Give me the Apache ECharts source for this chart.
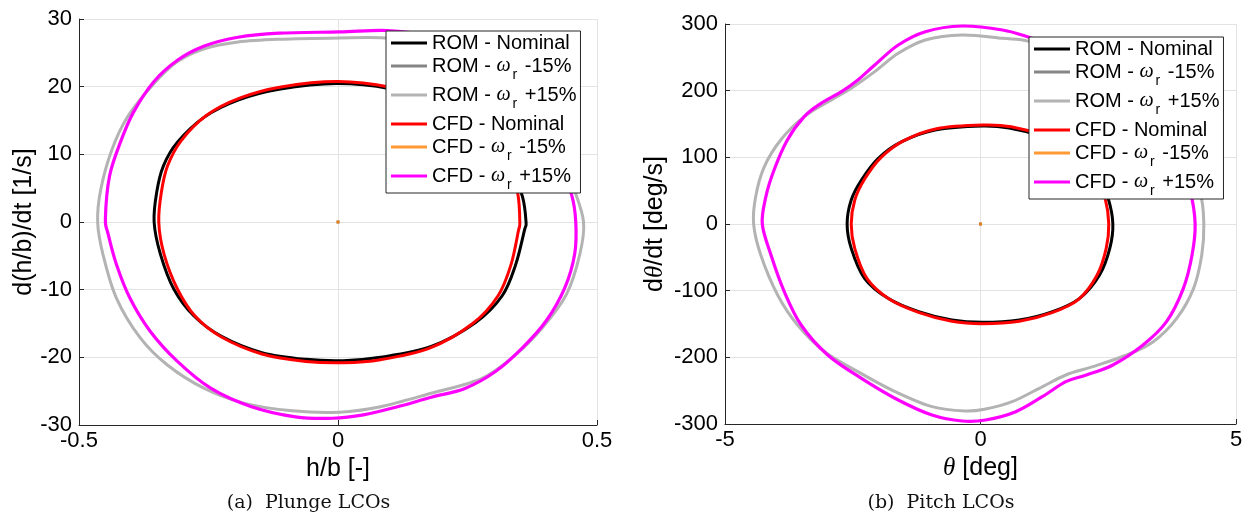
<!DOCTYPE html>
<html>
<head>
<meta charset="utf-8">
<script src="https://cdn.jsdelivr.net/npm/echarts/dist/echarts.min.js"></script>
<style>
  html, body { margin: 0; padding: 0; background: #ffffff; }
  #main { width: 1247px; height: 521px; }
</style>
</head>
<body>
<div id="main"></div>
<script>
// Legend entries and colours (same order in both panels)
const seriesNames = ['ROM - Nominal', 'ROM - ω_r -15%', 'ROM - ω_r +15%',
                     'CFD - Nominal', 'CFD - ω_r -15%', 'CFD - ω_r +15%'];
const seriesColors = ['#000000', '#666666', '#b3b3b3', '#ff0000', '#ff8000', '#ff00ff'];

// Axis ticks
const plungeXTicks = [-0.5, 0, 0.5];
const plungeYTicks = [-30, 30, 10];   // min, max, step
const pitchXTicks = [-5, 0, 5];
const pitchYTicks = [-300, 300, 100];

// Plunge LCO orbits: [h/b, d(h/b)/dt]
const plungeRomNominal = [[-0.355,0],[-0.35,4.4],[-0.337,8.3],[-0.31,11.8],[-0.258,15.5],[-0.193,18.0],[-0.114,19.6],[-0.003,20.45],[0.101,19.7],[0.18,17.9],[0.25,15.0],[0.3,11.4],[0.335,7.6],[0.356,3.8],[0.363,0],[0.36,-1.2],[0.343,-6.3],[0.317,-10.9],[0.265,-14.9],[0.18,-18.4],[0.082,-20.0],[0.01,-20.5],[-0.062,-20.3],[-0.147,-19.3],[-0.225,-16.9],[-0.278,-13.9],[-0.317,-9.9],[-0.343,-4.7]];
const plungeRomMinus = [[0, 0]];
const plungeRomPlus = [[-0.464,0],[-0.458,4.8],[-0.436,10.8],[-0.405,15.7],[-0.356,20.4],[-0.31,23.7],[-0.258,25.6],[-0.193,26.6],[-0.114,27.0],[0.003,27.2],[0.09,27.2],[0.17,26.5],[0.25,24.3],[0.32,20.6],[0.38,15.9],[0.425,10.9],[0.455,5.0],[0.474,0],[0.467,-4.7],[0.441,-10.7],[0.395,-15.6],[0.343,-19.6],[0.278,-23.1],[0.18,-25.3],[0.082,-27.3],[0.003,-28.1],[-0.088,-27.9],[-0.18,-26.8],[-0.258,-24.6],[-0.33,-21.1],[-0.382,-17.1],[-0.428,-11.2],[-0.454,-4.7]];
const plungeCfdNominal = [[-0.346,0],[-0.341,4.4],[-0.329,8.3],[-0.303,12.0],[-0.253,15.8],[-0.19,18.3],[-0.11,19.95],[0.0,20.75],[0.101,19.9],[0.18,18.0],[0.25,15.1],[0.3,11.4],[0.332,7.6],[0.347,4.2],[0.351,0],[0.348,-1.4],[0.334,-6.3],[0.309,-10.9],[0.26,-15.0],[0.178,-18.6],[0.082,-20.35],[0.01,-20.8],[-0.062,-20.6],[-0.147,-19.5],[-0.225,-17.0],[-0.276,-13.9],[-0.31,-9.9],[-0.336,-4.7]];
const plungeCfdMinus = [[0, 0]];
const plungeCfdPlus = [[-0.449,0.5],[-0.441,6.8],[-0.42,11.8],[-0.395,16.2],[-0.356,20.7],[-0.31,23.9],[-0.258,26.0],[-0.193,27.3],[-0.114,27.9],[0.003,28.1],[0.095,28.3],[0.167,27.6],[0.245,25.1],[0.31,21.1],[0.363,16.4],[0.402,11.6],[0.432,7.2],[0.451,4.0],[0.459,0],[0.457,-4.7],[0.438,-9.7],[0.402,-14.6],[0.356,-18.6],[0.304,-22.1],[0.245,-24.6],[0.18,-25.9],[0.115,-27.3],[0.049,-28.5],[-0.01,-29.0],[-0.082,-28.8],[-0.167,-27.3],[-0.245,-24.6],[-0.31,-20.6],[-0.363,-16.1],[-0.402,-11.2],[-0.428,-6.2],[-0.444,-1.7]];

// Pitch LCO orbits: [theta (deg), dtheta/dt (deg/s)]
const pitchRomNominal = [[-2.61,0],[-2.53,36],[-2.33,66],[-2.0,98.5],[-1.54,123.5],[-0.89,141],[0.03,147],[0.56,144],[1.21,131.5],[1.81,111.5],[2.27,81.5],[2.5,38],[2.59,0],[2.53,-36.5],[2.33,-76.5],[1.94,-111.5],[1.41,-131.5],[0.76,-144],[0.03,-147.5],[-0.56,-144],[-1.21,-131.5],[-1.81,-111.5],[-2.27,-81.5],[-2.53,-36.5]];
const pitchRomMinus = [[0, 0]];
const pitchRomPlus = [[-4.44,0],[-4.4,41],[-4.23,86],[-3.91,126],[-3.45,161],[-2.92,186],[-2.53,203.5],[-2.07,228.5],[-1.61,256],[-1.08,276],[-0.36,283.5],[0.43,278.5],[0.95,274],[1.67,251.5],[2.4,221.5],[3.05,191.5],[3.58,151.5],[3.97,106.5],[4.3,46.5],[4.37,0],[4.33,-46.5],[4.17,-96.5],[3.84,-141.5],[3.38,-176.5],[2.86,-196.5],[2.2,-214],[1.67,-226.5],[1.15,-246.5],[0.62,-266.5],[0.1,-277.5],[-0.3,-280.5],[-0.95,-274],[-1.67,-251.5],[-2.4,-221.5],[-3.05,-191.5],[-3.58,-151.5],[-3.97,-106.5],[-4.3,-46.5]];
const pitchCfdNominal = [[-2.53,0],[-2.46,36],[-2.27,67],[-1.95,99.5],[-1.5,125],[-0.86,143],[0.05,148.5],[0.6,146],[1.22,133],[1.8,112],[2.22,82],[2.44,38],[2.51,0],[2.46,-36.5],[2.28,-77],[1.92,-113],[1.4,-133],[0.76,-146],[0.03,-149.5],[-0.56,-146],[-1.2,-133],[-1.78,-113],[-2.22,-82],[-2.46,-37]];
const pitchCfdMinus = [[0, 0]];
const pitchCfdPlus = [[-4.27,0],[-4.2,41],[-4.04,81],[-3.78,126],[-3.45,161],[-3.12,181],[-2.72,198.5],[-2.4,216],[-2.07,238.5],[-1.61,268.5],[-1.08,288.5],[-0.36,297],[0.43,291],[0.95,280],[1.61,262],[2.33,232],[2.99,196],[3.51,152],[3.84,102],[4.1,50],[4.2,0],[4.14,-46.5],[3.97,-96.5],[3.64,-146.5],[3.18,-181.5],[2.59,-211.5],[2.07,-226.5],[1.67,-236.5],[1.21,-259],[0.69,-281.5],[0.1,-294],[-0.36,-295.5],[-0.95,-286.5],[-1.61,-264],[-2.33,-231.5],[-2.99,-196.5],[-3.51,-151.5],[-3.84,-101.5],[-4.1,-46.5]];

const SANS = '"Liberation Sans", Arial, Helvetica, sans-serif';
const SERIF = '"Liberation Serif", "Times New Roman", serif';
const AXIS_COLOR = '#262626';

// Closed Catmull-Rom path through the orbit points (already in pixel space)
function closedSplinePath(P) {
  const n = P.length;
  let d = 'M' + P[0][0] + ',' + P[0][1];
  for (let k = 0; k < n; k++) {
    const p0 = P[(k - 1 + n) % n], p1 = P[k], p2 = P[(k + 1) % n], p3 = P[(k + 2) % n];
    const c1x = p1[0] + (p2[0] - p0[0]) / 6, c1y = p1[1] + (p2[1] - p0[1]) / 6;
    const c2x = p2[0] - (p3[0] - p1[0]) / 6, c2y = p2[1] - (p3[1] - p1[1]) / 6;
    d += 'C' + c1x + ',' + c1y + ' ' + c2x + ',' + c2y + ' ' + p2[0] + ',' + p2[1];
  }
  return d + 'Z';
}

function legendFormatter(name) {
  const m = name.match(/^(.*)ω_r(.*)$/);
  if (!m) return '{t|' + name + '}';
  return '{t|' + m[1] + '}{w|ω}{s|r}{t|' + m[2] + '}';
}

const legendRich = {
  t: { fontFamily: SANS, fontSize: 20, lineHeight: 20, color: '#000', verticalAlign: 'top' },
  w: { fontFamily: SERIF, fontStyle: 'italic', fontSize: 20, lineHeight: 20, color: '#000', verticalAlign: 'top', padding: [0, 1, 0, 0] },
  s: { fontFamily: SANS, fontSize: 14, lineHeight: 14, color: '#000', verticalAlign: 'top', padding: [12, 2, 0, 1] }
};

function makeLegend(left, top) {
  return {
    orient: 'vertical', left: left, top: top,
    data: seriesNames, icon: 'rect', itemWidth: 36, itemHeight: 3, itemGap: 3,
    padding: [2, 4, 1, 5], backgroundColor: '#ffffff',
    borderColor: AXIS_COLOR, borderWidth: 1, borderRadius: 0,
    selectedMode: false, formatter: legendFormatter,
    textStyle: { rich: legendRich }
  };
}

function makeXAxis(gridIndex, ticks, name, rich) {
  return {
    gridIndex: gridIndex, type: 'value',
    min: ticks[0], max: ticks[ticks.length - 1], interval: ticks[1] - ticks[0],
    axisLine: { show: true, onZero: false, lineStyle: { color: AXIS_COLOR, width: 1 } },
    axisTick: { show: true, inside: true, length: 5, lineStyle: { color: AXIS_COLOR } },
    axisLabel: { color: '#000', fontFamily: SANS, fontSize: 22, margin: 5 },
    splitLine: { show: true, lineStyle: { color: '#e3e3e3', width: 1 } },
    name: name, nameLocation: 'middle', nameGap: 28,
    nameTextStyle: { color: '#000', fontFamily: SANS, fontSize: 25, rich: rich }
  };
}

function makeYAxis(gridIndex, ticks, name, gap, rich) {
  return {
    gridIndex: gridIndex, type: 'value',
    min: ticks[0], max: ticks[1], interval: ticks[2],
    axisLine: { show: true, onZero: false, lineStyle: { color: AXIS_COLOR, width: 1 } },
    axisTick: { show: true, inside: true, length: 5, lineStyle: { color: AXIS_COLOR } },
    axisLabel: { color: '#000', fontFamily: SANS, fontSize: 22, margin: 7 },
    splitLine: { show: true, lineStyle: { color: '#e3e3e3', width: 1 } },
    name: name, nameLocation: 'middle', nameGap: gap,
    nameTextStyle: { color: '#000', fontFamily: SANS, fontSize: 25, rich: rich }
  };
}

function makeSeries(panel, datasets) {
  return datasets.map(function (pts, i) {
    const color = seriesColors[i];
    if (pts.length < 3) {
      // orbit collapsed to the equilibrium point
      return {
        type: 'scatter', name: seriesNames[i], xAxisIndex: panel, yAxisIndex: panel,
        data: pts, symbol: 'rect', symbolSize: 3, color: color,
        itemStyle: { color: color }, silent: true
      };
    }
    const width = i === 5 ? 3.2 : 3;
    return {
      type: 'custom', name: seriesNames[i], coordinateSystem: 'cartesian2d',
      xAxisIndex: panel, yAxisIndex: panel, data: pts, encode: { x: 0, y: 1 },
      color: color, itemStyle: { color: color }, silent: true,
      renderItem: function (params, api) {
        if (params.dataIndex !== 0) return null;
        const P = pts.map(function (p) { return api.coord(p); });
        return {
          type: 'path',
          shape: { pathData: closedSplinePath(P) },
          style: { stroke: color, lineWidth: width, fill: 'none', lineJoin: 'round' }
        };
      }
    };
  });
}

const thetaRich = { i: { fontFamily: SERIF, fontStyle: 'italic', fontSize: 25, color: '#000' } };

const option = {
  animation: false,
  backgroundColor: '#ffffff',
  grid: [
    { left: 79, top: 19, width: 518, height: 406, outerBoundsMode: 'none', containLabel: false },
    { left: 725, top: 24, width: 511, height: 400, outerBoundsMode: 'none', containLabel: false }
  ],
  xAxis: [
    makeXAxis(0, plungeXTicks, 'h/b [-]'),
    makeXAxis(1, pitchXTicks, '{i|θ} [deg]', thetaRich)
  ],
  yAxis: [
    makeYAxis(0, plungeYTicks, 'd(h/b)/dt [1/s]', 42),
    makeYAxis(1, pitchYTicks, 'd{i|θ}/dt [deg/s]', 57, thetaRich)
  ],
  legend: [makeLegend(386, 31), makeLegend(1029, 37)],
  series: makeSeries(0, [plungeRomNominal, plungeRomMinus, plungeRomPlus, plungeCfdNominal, plungeCfdMinus, plungeCfdPlus])
    .concat(makeSeries(1, [pitchRomNominal, pitchRomMinus, pitchRomPlus, pitchCfdNominal, pitchCfdMinus, pitchCfdPlus])),
  graphic: [
    { type: 'text', x: 308.5, y: 503, silent: true,
      style: { text: '(a)  Plunge LCOs', fontFamily: '"DejaVu Serif", serif', fontSize: 19, fill: '#111111', align: 'center', verticalAlign: 'middle' } },
    { type: 'text', x: 941, y: 503, silent: true,
      style: { text: '(b)  Pitch LCOs', fontFamily: '"DejaVu Serif", serif', fontSize: 19, fill: '#111111', align: 'center', verticalAlign: 'middle' } }
  ]
};

const chart = echarts.init(document.getElementById('main'), null, { renderer: 'canvas' });
chart.setOption(option);
</script>
</body>
</html>
